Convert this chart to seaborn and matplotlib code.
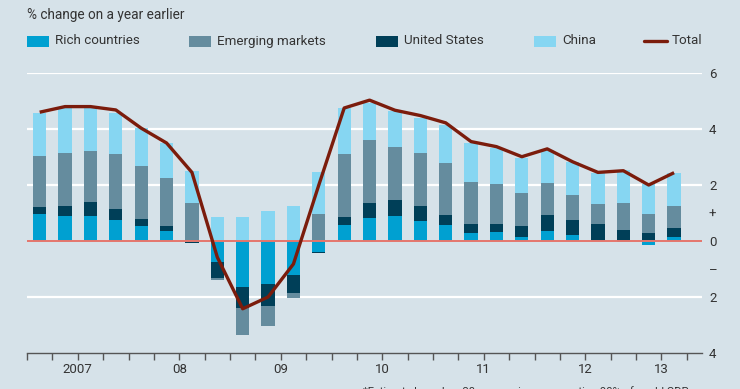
import matplotlib
matplotlib.use("Agg")
import matplotlib.pyplot as plt
from matplotlib.patches import Rectangle
from matplotlib.lines import Line2D
import numpy as np
import pandas as pd
import seaborn as sns

# quarterly data, 2007Q1 - 2013Q2 (% change on a year earlier, contributions)
quarters = [
    "2007Q1", "2007Q2", "2007Q3", "2007Q4", "2008Q1", "2008Q2", "2008Q3", "2008Q4",
    "2009Q1", "2009Q2", "2009Q3", "2009Q4", "2010Q1", "2010Q2", "2010Q3", "2010Q4",
    "2011Q1", "2011Q2", "2011Q3", "2011Q4", "2012Q1", "2012Q2", "2012Q3", "2012Q4",
    "2013Q1", "2013Q2",
]
rich = [0.95, 0.89, 0.89, 0.74, 0.53, 0.35, -0.02, -0.76, -1.64, -1.54, -1.20, -0.41, 0.56,
        0.83, 0.91, 0.71, 0.56, 0.28, 0.32, 0.16, 0.34, 0.23, 0.02, -0.05, -0.13, 0.14]
us = [0.27, 0.36, 0.49, 0.39, 0.24, 0.18, -0.05, -0.56, -0.74, -0.78, -0.64, -0.03, 0.30,
      0.51, 0.57, 0.54, 0.38, 0.34, 0.30, 0.37, 0.60, 0.53, 0.57, 0.38, 0.27, 0.32]
emerging = [1.83, 1.91, 1.84, 1.99, 1.91, 1.71, 1.34, -0.08, -0.96, -0.72, -0.20, 0.98, 2.24,
            2.25, 1.87, 1.89, 1.84, 1.50, 1.41, 1.19, 1.14, 0.90, 0.72, 0.98, 0.68, 0.78]
china = [1.53, 1.59, 1.55, 1.46, 1.35, 1.26, 1.16, 0.86, 0.86, 1.07, 1.24, 1.49, 1.65,
         1.34, 1.28, 1.26, 1.37, 1.38, 1.29, 1.24, 1.18, 1.15, 1.11, 1.18, 1.08, 1.18]
total = [4.60, 4.80, 4.80, 4.68, 4.03, 3.50, 2.45, -0.58, -2.42, -2.00, -0.82, 2.00, 4.75,
         5.03, 4.67, 4.48, 4.22, 3.55, 3.37, 3.01, 3.29, 2.83, 2.45, 2.51, 2.00, 2.44]

year_labels = ["2007", "08", "09", "10", "11", "12", "13"]
ytick_vals = [6, 4, 2, 1, 0, -1, -2, -4]
ytick_text = ["6", "4", "2", "+", "0", "\u2013", "2", "4"]

BG = "#d6e2e9"
C_RICH = "#00a0d1"
C_EM = "#658c9e"
C_US = "#003f58"
C_CHINA = "#86d6f2"
C_TOTAL = "#7b1c0c"
C_ZERO = "#e5766c"
TXT = "#333333"

sns.set_theme(style="white")
plt.rcParams["font.family"] = ["Roboto", "DejaVu Sans"]

df = pd.DataFrame({
    "quarter": quarters,
    "Rich countries": rich,
    "United States": us,
    "Emerging markets": emerging,
    "China": china,
    "Total": total,
})
df["x"] = np.arange(len(df)) + 0.5
df["year"] = df["quarter"].str[:4]

W, H = 740, 389
fig = plt.figure(figsize=(W / 100, H / 100), dpi=100, facecolor=BG)
ax = fig.add_axes([27 / W, (H - 353) / H, 675 / W, 280 / H])
ax.set_facecolor(BG)

# gridlines and zero line
for g in [6, 4, 2, -2]:
    ax.axhline(g, color="white", lw=1.6, zorder=1)
ax.axhline(0, color=C_ZERO, lw=1.4, zorder=3)

# stacked bars, positives up and negatives down
stack = [("Rich countries", C_RICH), ("United States", C_US),
         ("Emerging markets", C_EM), ("China", C_CHINA)]
pos_base = np.zeros(len(df))
neg_base = np.zeros(len(df))
for name, col in stack:
    v = df[name].to_numpy()
    bottoms = np.where(v >= 0, pos_base, neg_base)
    ax.bar(df["x"], v, bottom=bottoms, width=0.52, color=col, linewidth=0, zorder=2)
    pos_base += np.clip(v, 0, None)
    neg_base += np.clip(v, None, 0)

sns.lineplot(data=df, x="x", y="Total", ax=ax, color=C_TOTAL, linewidth=2.4,
             zorder=5, solid_joinstyle="round", solid_capstyle="butt")

ax.set_xlim(0, 26.6)
ax.set_ylim(-4, 6)
ax.set_xlabel("")
ax.set_ylabel("")

for s in ["top", "left", "right"]:
    ax.spines[s].set_visible(False)
ax.spines["bottom"].set_color("#555555")
ax.spines["bottom"].set_linewidth(1.0)

# y labels on the right
ax.yaxis.tick_right()
ax.set_yticks(ytick_vals)
ax.set_yticklabels(ytick_text)
ax.tick_params(axis="y", length=0, pad=5, labelsize=9.5, labelcolor=TXT)

# quarter ticks
ax.set_xticks(np.arange(0, 27))
ax.set_xticklabels([])
ax.tick_params(axis="x", which="major", direction="out", length=5, width=1,
               color="#555555", bottom=True)

# year labels centred under each year's quarters
year_pos = df.groupby("year")["x"].mean().to_numpy()
for xp, lab in zip(year_pos, year_labels):
    ax.text(xp, -0.035, lab, transform=ax.get_xaxis_transform(), ha="center", va="top",
            fontsize=9.5, color=TXT)

# header
fig.text(27 / W, 1 - 15 / H, "% change on a year earlier", fontsize=9.8, color=TXT,
         ha="left", va="center")

# legend row
legend_items = [
    ("Rich countries", C_RICH, 27, "patch"),
    ("Emerging markets", C_EM, 189, "patch"),
    ("United States", C_US, 376, "patch"),
    ("China", C_CHINA, 534, "patch"),
    ("Total", C_TOTAL, 644, "line"),
]
ly = 41
for label, col, lx, kind in legend_items:
    if kind == "patch":
        fig.add_artist(Rectangle((lx / W, 1 - (ly + 5.5) / H), 22 / W, 11 / H,
                                 transform=fig.transFigure, color=col, lw=0))
    else:
        fig.add_artist(Line2D([lx / W, (lx + 23) / W], [1 - ly / H, 1 - ly / H],
                              transform=fig.transFigure, color=col, lw=2.4))
    fig.text((lx + 28) / W, 1 - ly / H, label, fontsize=9.6, color=TXT,
             ha="left", va="center")

# footnote, cut off at the bottom edge as in the original
fig.text(363 / W, 3 / H, "*Estimate based on 30 economies representing 90% of world GDP",
         fontsize=8, color=TXT, ha="left", va="top")

fig.savefig("out.png", dpi=100, facecolor=BG)
